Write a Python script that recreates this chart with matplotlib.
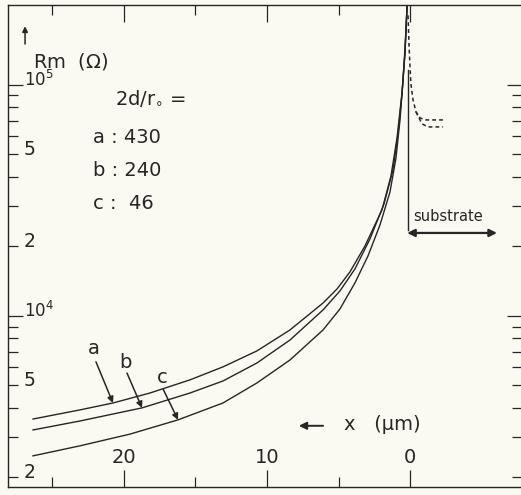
import matplotlib
matplotlib.use('Agg')
import matplotlib.pyplot as plt
from matplotlib.ticker import FixedLocator, NullFormatter
import matplotlib.transforms as mtransforms

# spreading resistance Rm (ohm) against depth x (um), three probe ratios 2d/r0
x_a = [26.36, 23.08, 20.77, 18.18, 15.38, 13.08, 10.70, 8.39, 6.08, 5.10, 4.20,
       3.15, 1.96, 1.33, 0.91, 0.56, 0.35, 0.19]
rm_a = [3580, 3920, 4200, 4640, 5290, 6020, 7060, 8700, 11380, 13090, 15510,
        20090, 28770, 40380, 58970, 92340, 137600, 230000]

x_b = [26.36, 23.08, 18.74, 15.38, 13.08, 10.70, 8.39, 6.08, 4.90, 3.85, 2.80,
       1.82, 1.19, 0.84, 0.56, 0.35, 0.19]
rm_b = [3210, 3510, 4000, 4640, 5230, 6260, 7870, 10620, 12830, 15980, 21540,
        30530, 42850, 61370, 91420, 139000, 230000]

x_c = [26.36, 23.08, 19.58, 16.22, 13.08, 10.70, 8.39, 6.08, 4.90, 3.85, 2.94,
       2.10, 1.40, 0.98, 0.70, 0.49, 0.35, 0.19]
rm_c = [2480, 2740, 3080, 3550, 4200, 5130, 6450, 8700, 10720, 13900, 18180,
        24770, 34420, 48310, 70550, 105100, 144600, 230000]

# dashed profile inside the substrate (two branches)
x_sub1 = [0.14, 0.07, 0.0, -0.07, -0.21, -0.42, -0.70, -1.05, -2.31]
rm_sub1 = [200000, 149000, 119700, 100000, 86100, 76400, 72000, 70550, 70550]
x_sub2 = [-0.42, -0.84, -1.26, -2.31]
rm_sub2 = [76400, 67800, 65800, 65800]

# labels
ratios = ['a : 430', 'b : 240', 'c :  46']
curve_names = ['a', 'b', 'c']
x_ticks_major = [0, 10, 20]
x_ticks_minor = [5, 15, 25]
y_ticks_major = [1e4, 1e5]
y_ticks_minor = [2e3, 3e3, 4e3, 5e3, 6e3, 7e3, 8e3, 9e3,
                 2e4, 3e4, 4e4, 5e4, 6e4, 7e4, 8e4, 9e4]
y_labels = [(1e5, r'$10^5$'), (5e4, '5'), (2e4, '2'),
            (1e4, r'$10^4$'), (5e3, '5'), (2e3, '2')]

bg = '#fafaf3'
ink = '#262626'

fig = plt.figure(figsize=(5.21, 4.95), dpi=100)
fig.patch.set_facecolor(bg)
# right edge of the frame runs just past the figure border
ax = fig.add_axes([8 / 521, 8 / 495, 514 / 521, 482 / 495])
ax.set_facecolor(bg)
ax.set_yscale('log')
ax.set_xlim(28.11, -7.83)
ax.set_ylim(1818, 221800)

for s in ax.spines.values():
    s.set_linewidth(1.0)
    s.set_color(ink)

ax.xaxis.set_major_locator(FixedLocator(x_ticks_major))
ax.xaxis.set_minor_locator(FixedLocator(x_ticks_minor))
ax.yaxis.set_major_locator(FixedLocator(y_ticks_major))
ax.yaxis.set_minor_locator(FixedLocator(y_ticks_minor))
ax.xaxis.set_minor_formatter(NullFormatter())
ax.yaxis.set_minor_formatter(NullFormatter())
ax.tick_params(axis='x', which='major', direction='in', length=12.5, width=0.9,
               color=ink, top=True, bottom=True, labelbottom=False)
ax.tick_params(axis='x', which='minor', direction='in', length=7, width=0.9,
               color=ink, top=True, bottom=True)
ax.tick_params(axis='y', which='major', direction='in', length=10.5, width=0.9,
               color=ink, left=True, right=True, labelleft=False)
ax.tick_params(axis='y', which='minor', direction='in', length=7, width=0.9,
               color=ink, left=True, right=True)

# curves
for xs, ys in [(x_a, rm_a), (x_b, rm_b), (x_c, rm_c)]:
    ax.plot(xs, ys, color=ink, lw=1.0, solid_joinstyle='round')
ax.plot(x_sub1, rm_sub1, color=ink, lw=1.1, ls=(0, (2.5, 2)))
ax.plot(x_sub2, rm_sub2, color=ink, lw=1.1, ls=(0, (2.5, 2)))

# substrate boundary and arrow
ax.plot([0.12, 0.12], [23570, 116100], color=ink, lw=1.0)
ax.annotate('', xy=(-6.08, 22870), xytext=(0.2, 22870),
            arrowprops=dict(arrowstyle='<|-|>', color=ink, lw=1.6,
                            mutation_scale=11, shrinkA=0, shrinkB=0))
ax.text(-0.21, 26830, 'substrate', fontsize=10.5, color=ink,
        ha='left', va='center')

# inner tick labels
bt = mtransforms.blended_transform_factory(ax.transData, ax.transAxes)
for xv in x_ticks_major:
    ax.text(xv, 0.062, str(xv), transform=bt, fontsize=14, color=ink,
            ha='center', va='center')
lt = mtransforms.blended_transform_factory(ax.transAxes, ax.transData)
for yv, lab in y_labels:
    fs = 12 if '10' in lab else 13.5
    ax.text(0.031, yv * 1.05, lab, transform=lt, fontsize=fs, color=ink,
            ha='left', va='center')

# axis titles
ax.annotate('', xy=(0.0332, 0.956), xytext=(0.0332, 0.919),
            xycoords='axes fraction',
            arrowprops=dict(arrowstyle='-|>', color=ink, lw=1.1,
                            mutation_scale=8, shrinkA=0, shrinkB=0))
ax.text(0.0488, 0.882, r'Rm  ($\Omega$)', transform=ax.transAxes,
        fontsize=14, color=ink, ha='left', va='center')
ax.annotate('', xy=(0.566, 0.127), xytext=(0.613, 0.127),
            xycoords='axes fraction',
            arrowprops=dict(arrowstyle='-|>', color=ink, lw=1.4,
                            mutation_scale=11, shrinkA=0, shrinkB=0))
ax.text(0.654, 0.129, 'x   (\u00b5m)', transform=ax.transAxes,
        fontsize=14, color=ink, ha='left', va='center')

# legend block
ax.text(0.209, 0.807, r'2d/r$_{\circ}$ =', transform=ax.transAxes,
        fontsize=14, color=ink, ha='left', va='center')
for i, r in enumerate(ratios):
    ax.text(0.166, 0.726 - i * 0.0685, r, transform=ax.transAxes,
            fontsize=14, color=ink, ha='left', va='center')

# curve pointers
name_pos = [(22.1, 7200), (19.93, 6270), (17.34, 5440)]
arrow_from = [(21.96, 6330), (19.79, 5660), (17.27, 4830)]
arrow_to = [(20.77, 4200), (18.74, 4000), (16.22, 3550)]
for n, p, a0, a1 in zip(curve_names, name_pos, arrow_from, arrow_to):
    ax.text(p[0], p[1], n, fontsize=14, color=ink, ha='center', va='center')
    ax.annotate('', xy=a1, xytext=a0,
                arrowprops=dict(arrowstyle='-|>', color=ink, lw=1.1,
                                mutation_scale=9, shrinkA=0, shrinkB=0))

fig.savefig('out.png', dpi=100, facecolor=bg)
